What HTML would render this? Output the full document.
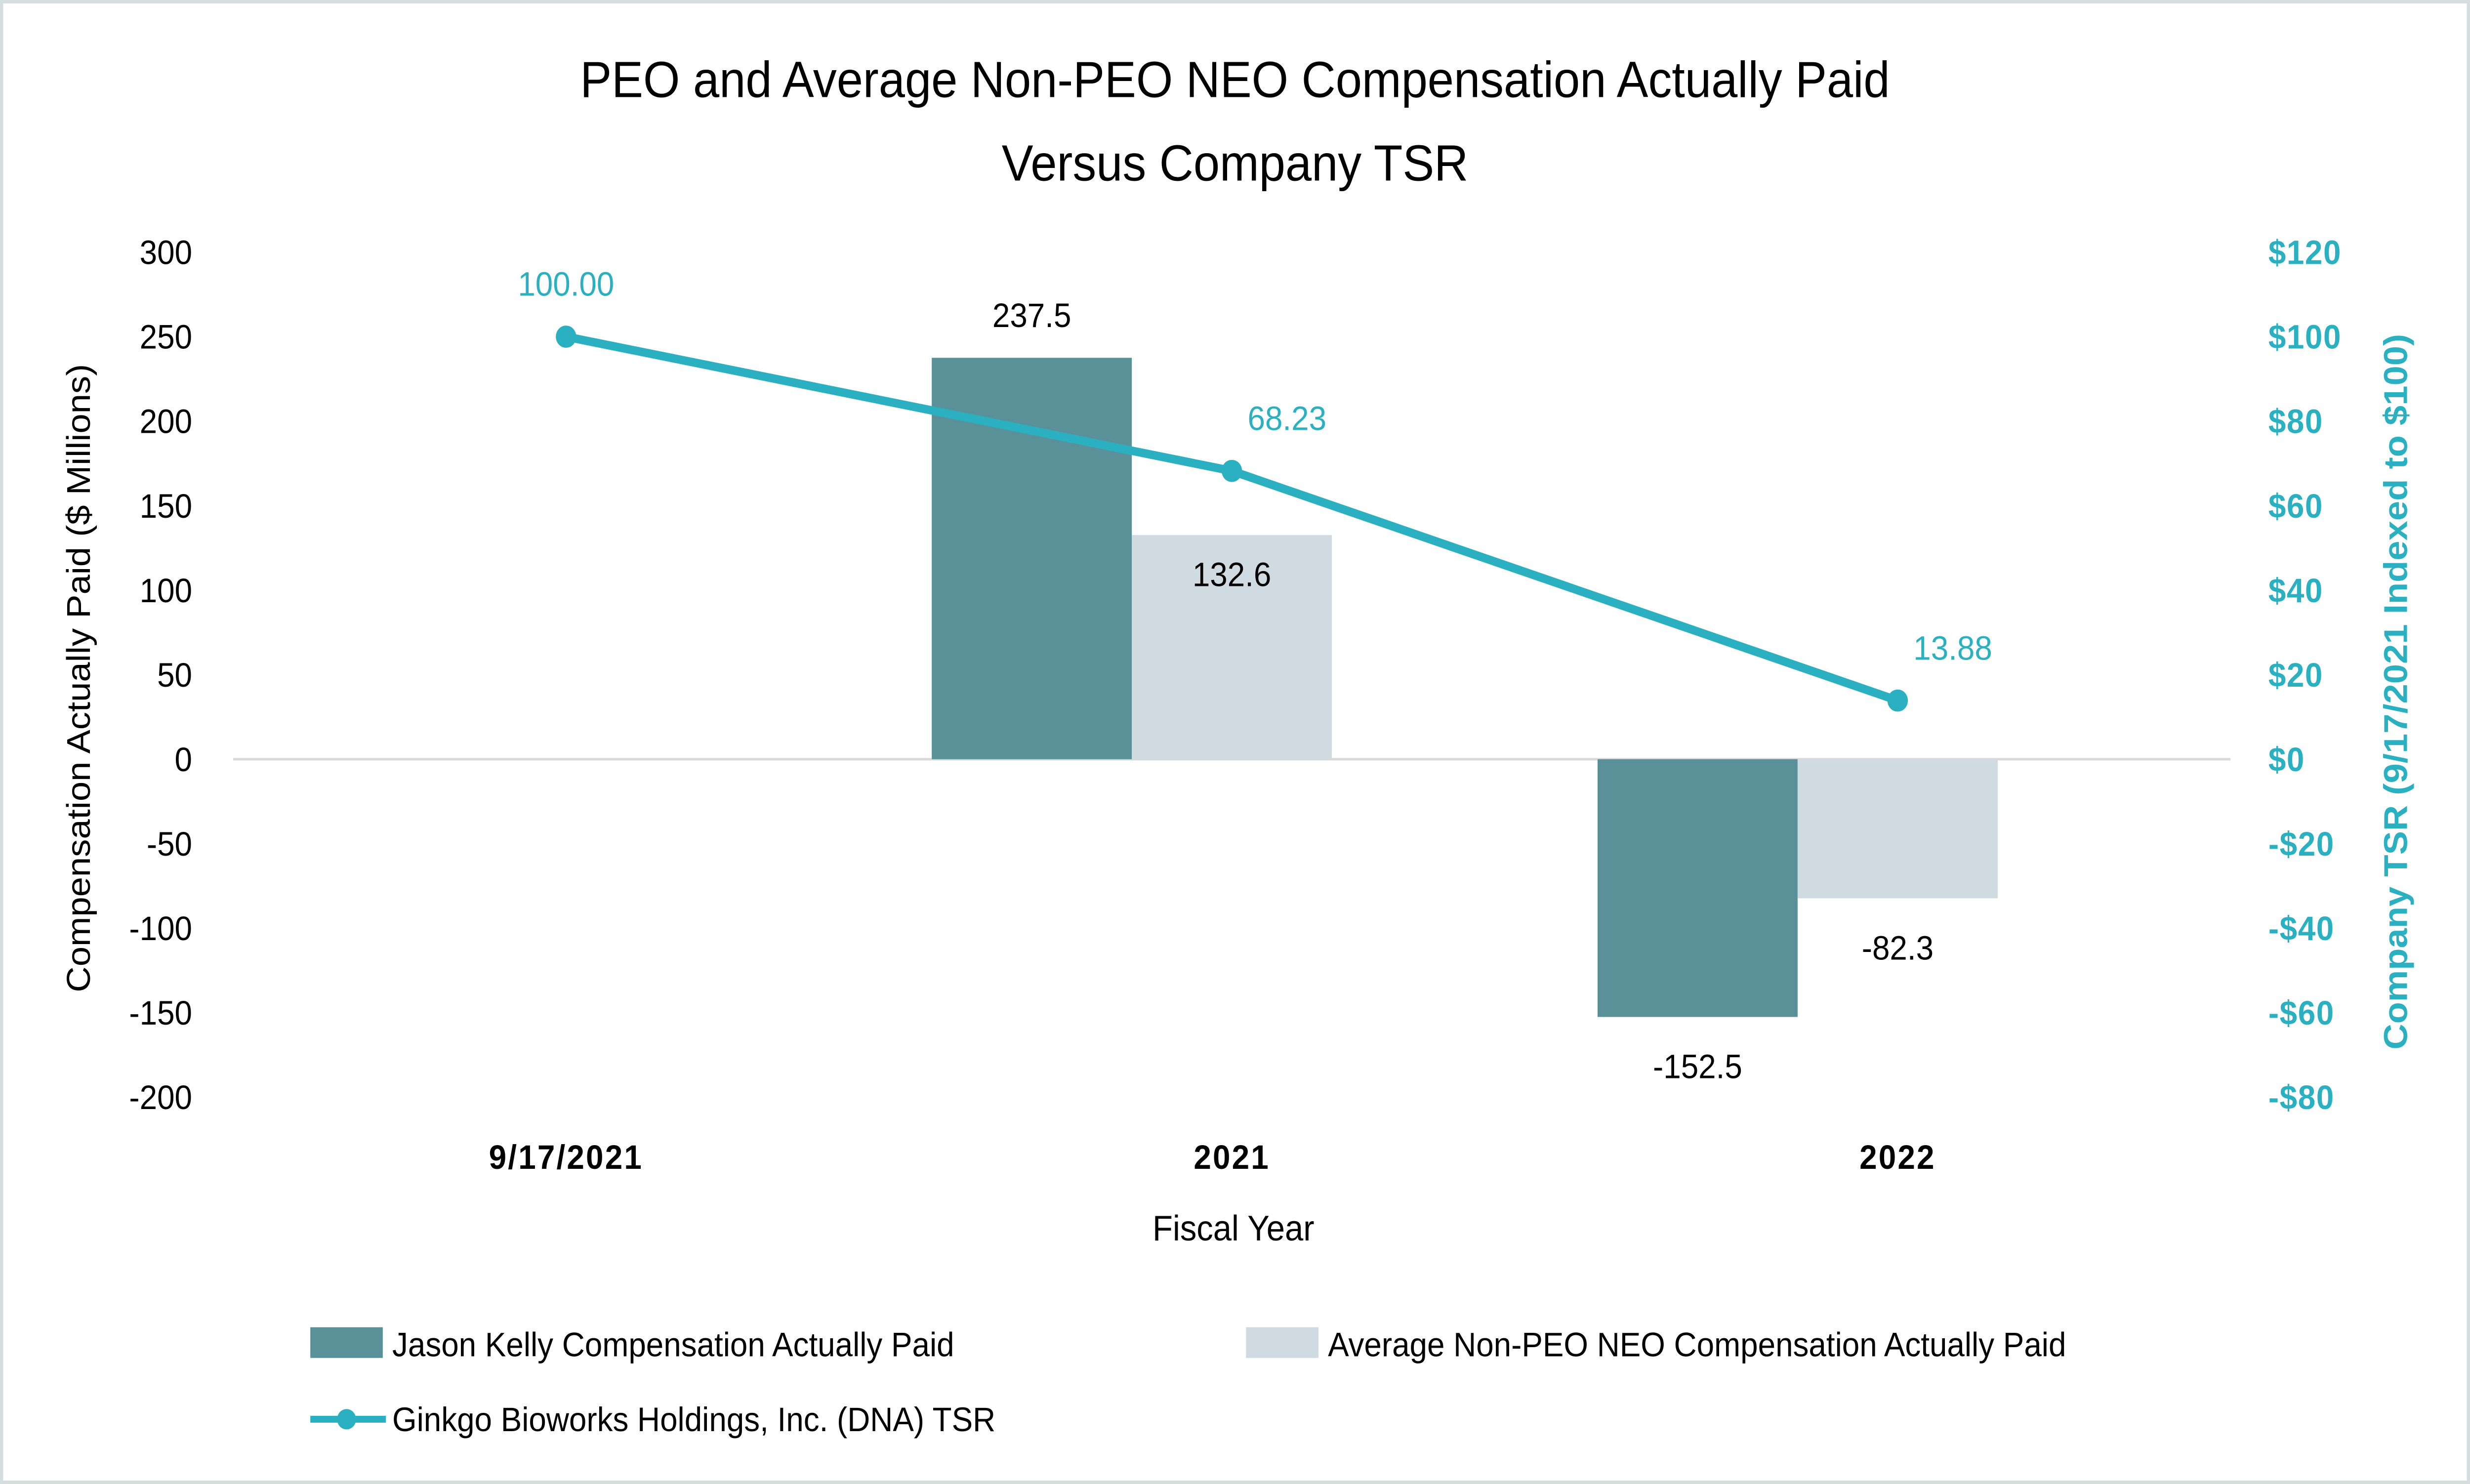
<!DOCTYPE html>
<html><head><meta charset="utf-8">
<style>
html,body{margin:0;padding:0;background:#fff;width:100%;height:100%;overflow:hidden;}
svg{display:block;position:absolute;left:0;top:0;width:100vw;height:100vh;font-family:"Liberation Sans",Arial,sans-serif;}
</style></head>
<body>
<svg viewBox="0 0 1568 871" preserveAspectRatio="none" xmlns="http://www.w3.org/2000/svg">
<rect x="1" y="1" width="1566" height="869" fill="#fff" stroke="#d3dedd" stroke-width="2"/>
<text x="784" y="57" text-anchor="middle" font-size="30" fill="#000">PEO and Average Non-PEO NEO Compensation Actually Paid</text>
<text x="784" y="106" text-anchor="middle" font-size="30" fill="#000">Versus Company TSR</text>
<g id="plot"></g>
<text transform="translate(57,398) rotate(-90)" text-anchor="middle" font-size="21" fill="#000">Compensation Actually Paid ($ Millions)</text>
<text transform="translate(1528,406) rotate(-90)" text-anchor="middle" font-size="21" font-weight="bold" fill="#2bb0c1">Company TSR (9/17/2021 Indexed to $100)</text>
<text x="783" y="728" text-anchor="middle" font-size="21" fill="#000">Fiscal Year</text>
<g>
<rect x="197" y="779" width="46" height="18" fill="#5a9199"/>
<text x="249" y="796" font-size="20" fill="#000">Jason Kelly Compensation Actually Paid</text>
<rect x="791" y="779" width="46" height="18" fill="#cfdbe0"/>
<text x="843" y="796" font-size="20" fill="#000">Average Non-PEO NEO Compensation Actually Paid</text>
<line x1="197" y1="833" x2="245" y2="833" stroke="#2bb0c1" stroke-width="4"/>
<circle cx="220" cy="833" r="6" fill="#2bb0c1"/>
<text x="249" y="840" font-size="20" fill="#000">Ginkgo Bioworks Holdings, Inc. (DNA) TSR</text>
</g>
</svg>
<script>
const categories = ["9/17/2021", "2021", "2022"];
const peoValues = [null, 237.5, -152.5];
const neoValues = [null, 132.6, -82.3];
const tsrValues = [100.00, 68.23, 13.88];
const leftTicks = [300, 250, 200, 150, 100, 50, 0, -50, -100, -150, -200];
const rightTicks = [120, 100, 80, 60, 40, 20, 0, -20, -40, -60, -80];

const NS = "http://www.w3.org/2000/svg";
const g = document.getElementById("plot");
const plotL = 148, plotR = 1416, yTop = 148, yBot = 644;
const yL = v => yTop + (300 - v) / 500 * (yBot - yTop);
const yR = v => yTop + (120 - v) / 200 * (yBot - yTop);
const band = (plotR - plotL) / categories.length;
const xC = i => plotL + band * (i + 0.5);
const barW = 127;
function mk(tag, attrs, text) {
  const e = document.createElementNS(NS, tag);
  for (const k in attrs) e.setAttribute(k, attrs[k]);
  if (text !== undefined) e.textContent = text;
  g.appendChild(e);
  return e;
}
leftTicks.forEach(t => {
  const e = mk("text", {x: 122, y: yL(t) + 7, "text-anchor": "end", "font-size": 20, fill: "#000"}, String(t));
  
  
});
rightTicks.forEach(t => {
  const e = mk("text", {x: 1440, y: yR(t) + 7, "font-size": 20, "font-weight": "bold", fill: "#2bb0c1", "letter-spacing": "0.5"}, (t < 0 ? "-$" : "$") + Math.abs(t));
  
  
});
const zl = mk("line", {x1: plotL, x2: plotR, y1: yL(0), y2: yL(0), stroke: "#d9d9d9", "stroke-width": 1.5});


categories.forEach((c, i) => {
  const e = mk("text", {x: xC(i), y: 686, "text-anchor": "middle", "font-size": 20, "font-weight": "bold", fill: "#000", "letter-spacing": "1"}, c);
  
  
});
function bars(vals, color, offset, name) {
  vals.forEach((v, i) => {
    if (v === null) return;
    const x = xC(i) + offset;
    const y0 = yL(0), y1 = yL(v);
    const r = mk("rect", {x: x, y: Math.min(y0, y1), width: barW, height: Math.abs(y1 - y0), fill: color});
    
    
    const ly = v >= 0 ? (name === "peo" ? y1 - 18 : y1 + 30) : y1 + 36;
    const lt = mk("text", {x: x + barW / 2, y: ly, "text-anchor": "middle", "font-size": 20, fill: "#000"}, v.toFixed(1));
    
    
  });
}
bars(peoValues, "#5a9199", -barW - 63.5, "peo");
bars(neoValues, "#cfdbe0", -63.5, "neo");
const pts = tsrValues.map((v, i) => xC(i) + "," + yR(v)).join(" ");
const pl = mk("polyline", {points: pts, fill: "none", stroke: "#2bb0c1", "stroke-width": 5});


tsrValues.forEach((v, i) => {
  const c = mk("circle", {cx: xC(i), cy: yR(v), r: 6.5, fill: "#2bb0c1"});
  
  
  const t = mk("text", {x: xC(i) + (i === 0 ? 0 : 10), y: yR(v) - 24, "text-anchor": i === 0 ? "middle" : "start", "font-size": 20, fill: "#2bb0c1"}, v.toFixed(2));
  
  
});
</script>
</body></html>
